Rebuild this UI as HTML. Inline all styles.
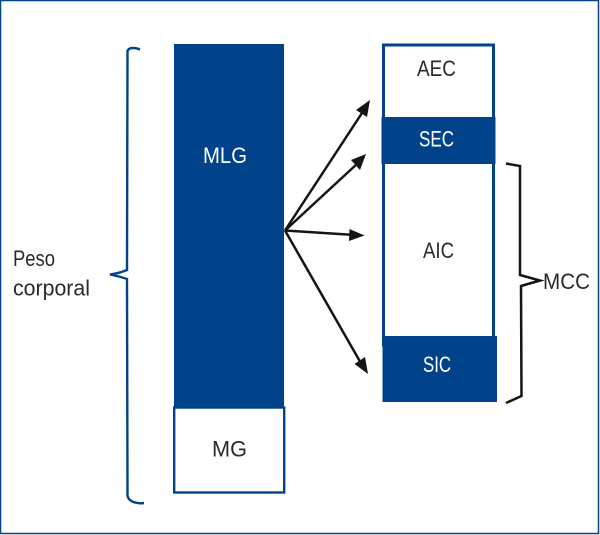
<!DOCTYPE html>
<html><head><meta charset="utf-8">
<style>
html,body{margin:0;padding:0;background:#fff;width:600px;height:535px;overflow:hidden}
svg{display:block}
text{font-family:"Liberation Sans",sans-serif;font-size:22px;fill:#2a2a2a}
</style></head>
<body>
<svg width="600" height="535" viewBox="0 0 600 535" xmlns="http://www.w3.org/2000/svg">
<rect x="0.5" y="0.5" width="598" height="533" fill="#fff" stroke="#00448a" stroke-width="1.5"/>
<!-- left column -->
<rect x="174" y="44" width="110" height="364" fill="#00438a"/>
<rect x="174.200" y="407.500" width="110" height="85" fill="#fff" stroke="#00438a" stroke-width="2.400"/>
<!-- right column -->
<rect x="383.500" y="45" width="110" height="300" fill="#fff" stroke="#00438a" stroke-width="3"/>
<rect x="381.500" y="117" width="114" height="47" fill="#00438a"/>
<rect x="382.500" y="336" width="114.500" height="66" fill="#00438a"/>
<!-- left brace -->
<path d="M140 49.500 C135 47.500 129 47 127.500 51 L127 270 Q120 273 110 274.500 Q120 276.500 127 279 L127.500 496 C129 502 137 504 144 503" fill="none" stroke="#00438a" stroke-width="2.400"/>
<!-- right brace -->
<path d="M506 163.500 L520 166 L520 275 L540 280.500 L521 286 L521.500 396 L506 403" fill="none" stroke="#151515" stroke-width="2.500"/>
<!-- arrows -->
<g stroke="#151515" stroke-width="2.500" fill="none">
<line x1="285" y1="230.500" x2="362" y2="113"/>
<line x1="285" y1="230.500" x2="358" y2="163"/>
<line x1="285" y1="230.500" x2="355" y2="235"/>
<line x1="285" y1="230.500" x2="362" y2="365"/>
</g>
<g fill="#151515">
<polygon points="370,100 367,117 356,110"/>
<polygon points="366,154 360,170 351,160"/>
<polygon points="364.500,235.500 349,241 349.500,229"/>
<polygon points="368,374 354.500,364 365,357"/>
</g>
<!-- labels -->
<text x="203" y="163" textLength="44" lengthAdjust="spacingAndGlyphs" style="fill:#fff">MLG</text>
<text x="212" y="456.500" textLength="35" lengthAdjust="spacingAndGlyphs">MG</text>
<text x="417" y="76" textLength="39" lengthAdjust="spacingAndGlyphs">AEC</text>
<text x="419" y="146.500" textLength="35" lengthAdjust="spacingAndGlyphs" style="fill:#fff">SEC</text>
<text x="423" y="258" textLength="31" lengthAdjust="spacingAndGlyphs">AIC</text>
<text x="423" y="372" textLength="28" lengthAdjust="spacingAndGlyphs" style="fill:#fff">SIC</text>
<text x="13" y="266" textLength="42" lengthAdjust="spacingAndGlyphs">Peso</text>
<text x="13" y="295.500" textLength="77" lengthAdjust="spacingAndGlyphs">corporal</text>
<text x="543" y="289" textLength="47" lengthAdjust="spacingAndGlyphs">MCC</text>
</svg>
</body></html>
